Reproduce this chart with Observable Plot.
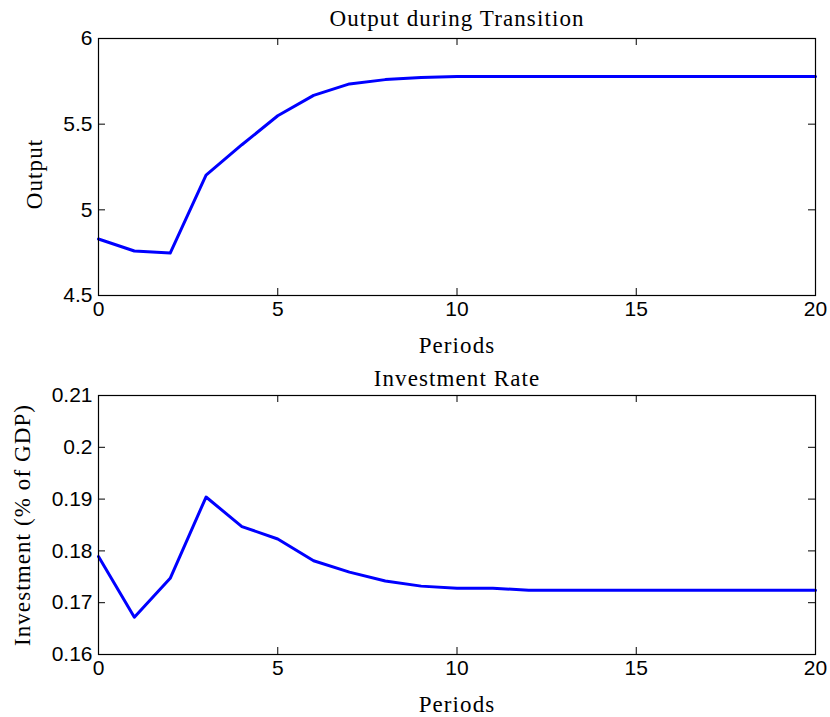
<!DOCTYPE html>
<html>
<head>
<meta charset="utf-8">
<script src="https://cdn.jsdelivr.net/npm/d3@7"></script>
<script src="https://cdn.jsdelivr.net/npm/@observablehq/plot@0.6"></script>
<style>
  html, body { margin: 0; padding: 0; background: #fff; }
  svg { display: block; }
  g[font-family^="Liberation Serif"] { letter-spacing: 1.1px; }
</style>
</head>
<body>
<div id="chart"></div>
<script>
const periods = [0,1,2,3,4,5,6,7,8,9,10,11,12,13,14,15,16,17,18,19,20];
const output = [4.83,4.76,4.748,5.203,5.38,5.549,5.668,5.735,5.76,5.772,5.778,5.778,5.778,5.778,5.778,5.778,5.778,5.778,5.778,5.778,5.778];
const investment = [0.1789,0.1672,0.1747,0.1904,0.1847,0.1823,0.1781,0.1759,0.1742,0.1732,0.1728,0.1728,0.1724,0.1724,0.1724,0.1724,0.1724,0.1724,0.1724,0.1724,0.1724];
const xTicks = [0,5,10,15,20];
const yTicksTop = [4.5,5,5.5,6];
const yTicksBottom = [0.16,0.17,0.18,0.19,0.2,0.21];

const W = 830, ML = 98, MR = 15, TL = 7;
const serif = "Liberation Serif, DejaVu Serif, serif";
const sans = "Liberation Sans, Arial, sans-serif";

function panel({y, yDomain, yTicks, height, mt, mb, title, titleDy, ylabel, ylabelDx, ylabelDy}) {
  const fh = height - mt - mb;
  const fw = W - ML - MR;
  const data = periods.map((p, i) => ({p, v: y[i]}));
  return Plot.plot({
    width: W, height,
    marginLeft: ML, marginRight: MR, marginTop: mt, marginBottom: mb,
    style: {fontFamily: sans, fontSize: "20px", color: "#000", background: "#fff", overflow: "visible"},
    x: {domain: [0, 20]},
    y: {domain: yDomain},
    marks: [
      Plot.line(data, {x: "p", y: "v", stroke: "#0000ff", strokeWidth: 3}),
      Plot.frame({stroke: "#000", strokeWidth: 1.2}),
      Plot.tickX(xTicks, {x: d => d, insetTop: fh - TL, stroke: "#000"}),
      Plot.tickX(xTicks, {x: d => d, insetBottom: fh - TL, stroke: "#000"}),
      Plot.tickY(yTicks, {y: d => d, insetRight: fw - TL, stroke: "#000"}),
      Plot.tickY(yTicks, {y: d => d, insetLeft: fw - TL, stroke: "#000"}),
      Plot.axisX(xTicks, {anchor: "bottom", tickSize: 0, tickPadding: 6, label: null, fontSize: 21}),
      Plot.axisY(yTicks, {anchor: "left", tickSize: 0, tickPadding: 6, label: null, tickFormat: d => String(d), fontSize: 21}),
      Plot.text([title], {frameAnchor: "top", lineAnchor: "middle", dy: titleDy, fontFamily: serif, fontSize: 23, fill: "#000"}),
      Plot.text(["Periods"], {frameAnchor: "bottom", lineAnchor: "middle", dy: 50, fontFamily: serif, fontSize: 23, fill: "#000"}),
      Plot.text([ylabel], {frameAnchor: "left", textAnchor: "middle", lineAnchor: "middle", dx: ylabelDx, dy: ylabelDy, rotate: -90, fontFamily: serif, fontSize: 23, fill: "#000"})
    ]
  });
}

const chart = document.getElementById("chart");
chart.appendChild(panel({
  y: output, yDomain: [4.5, 6], yTicks: yTicksTop,
  height: 360, mt: 38, mb: 65,
  title: "Output during Transition", titleDy: -20, ylabel: "Output", ylabelDx: -64, ylabelDy: 7
}));
chart.appendChild(panel({
  y: investment, yDomain: [0.16, 0.21], yTicks: yTicksBottom,
  height: 357, mt: 35, mb: 63,
  title: "Investment Rate", titleDy: -17, ylabel: "Investment (% of GDP)", ylabelDx: -76, ylabelDy: 0
}));
</script>
</body>
</html>
